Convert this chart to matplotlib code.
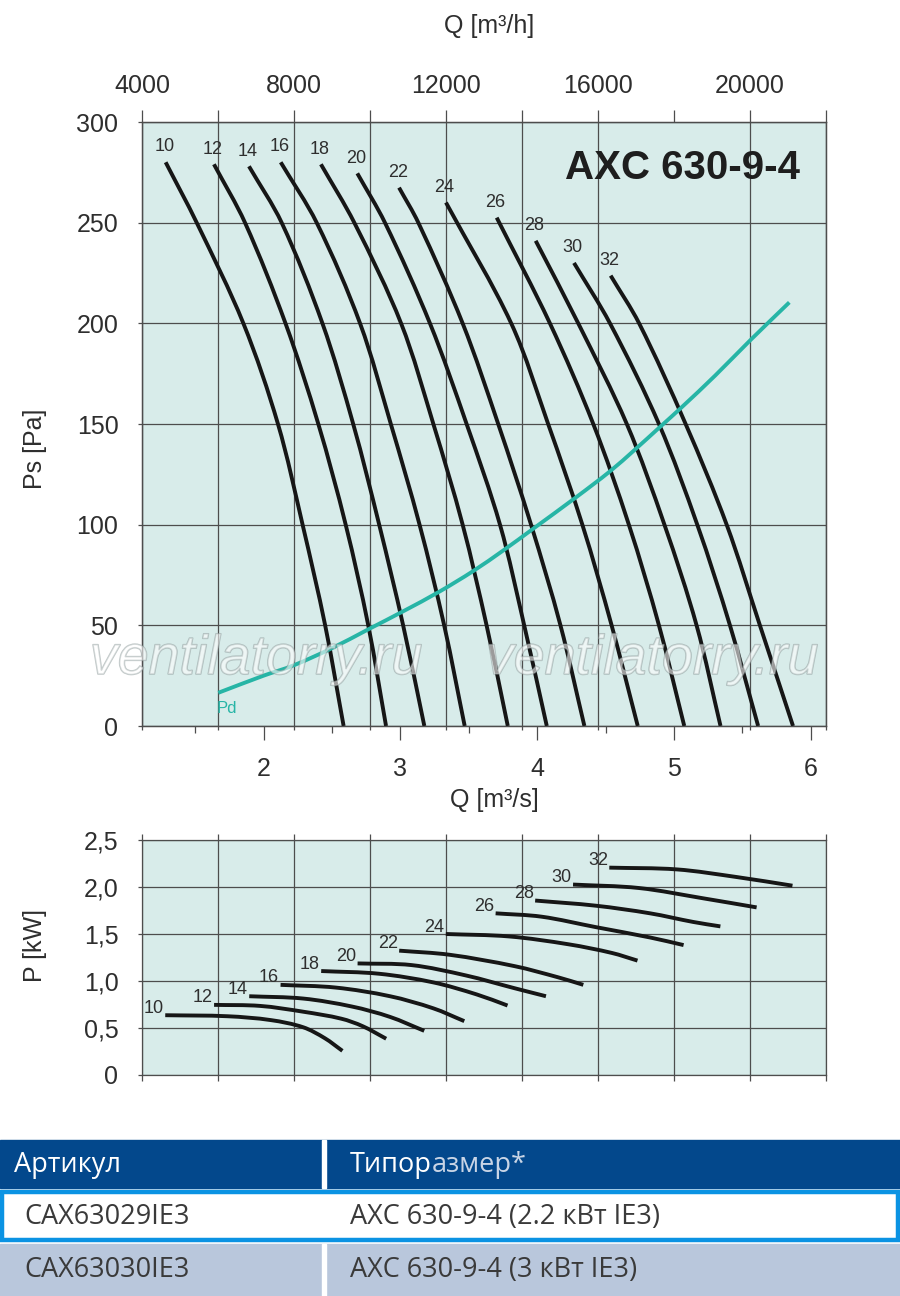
"""Fan curves AXC 630-9-4: static pressure, dynamic pressure and power vs flow."""

import matplotlib
matplotlib.use('Agg')
import matplotlib.pyplot as plt
import matplotlib.patheffects as pe
from matplotlib.patches import Rectangle, PathPatch
from matplotlib.path import Path

plt.rcParams['font.family'] = ['Liberation Sans', 'DejaVu Sans']

# blade angle of each curve
angles = [10, 12, 14, 16, 18, 20, 22, 24, 26, 28, 30, 32]

# static pressure curves, Q in m3/s and Ps in Pa
ps_q = [
    [1.284, 1.511, 1.852, 2.105, 2.285, 2.450, 2.585],
    [1.637, 1.864, 2.160, 2.400, 2.600, 2.765, 2.895],
    [1.893, 2.132, 2.430, 2.655, 2.845, 3.020, 3.175],
    [2.125, 2.388, 2.705, 2.930, 3.140, 3.320, 3.470],
    [2.419, 2.663, 3.005, 3.241, 3.455, 3.630, 3.785],
    [2.685, 2.887, 3.216, 3.484, 3.728, 3.905, 4.070],
    [2.990, 3.131, 3.455, 3.715, 3.955, 4.170, 4.345],
    [3.333, 3.810, 4.080, 4.330, 4.544, 4.735],
    [3.704, 4.093, 4.410, 4.670, 4.890, 5.075],
    [3.989, 4.300, 4.655, 4.930, 5.165, 5.340],
    [4.269, 4.532, 4.890, 5.170, 5.409, 5.615],
    [4.537, 4.745, 5.085, 5.385, 5.628, 5.870],
]
ps_p = [
    [280, 250, 200, 150, 100, 50, 0],
    [279, 250, 200, 150, 100, 50, 0],
    [278, 250, 200, 150, 100, 50, 0],
    [280, 250, 200, 150, 100, 50, 0],
    [279, 250, 200, 150, 100, 50, 0],
    [274.5, 250, 200, 150, 100, 50, 0],
    [267.4, 250, 200, 150, 100, 50, 0],
    [260, 200, 150, 100, 50, 0],
    [252.5, 200, 150, 100, 50, 0],
    [241, 200, 150, 100, 50, 0],
    [230, 200, 150, 100, 50, 0],
    [223.7, 200, 150, 100, 50, 0],
]

# dynamic pressure
pd_q = [1.669, 2.0, 2.222, 2.498, 2.765, 3.021, 3.289, 3.533, 3.752, 3.971,
        4.288, 4.532, 4.715, 4.897, 5.056, 5.30, 5.556, 5.843]
pd_p = [16.5, 25.0, 30.2, 38.6, 48.0, 57.0, 66.9, 77.0, 87.2, 98.0,
        113.8, 126.5, 137.3, 148.5, 158.3, 174.0, 191.5, 210.4]

# shaft power curves, Q in m3/s and P in kW
pw_q = [
    [1.281, 1.737, 2.053, 2.291, 2.449, 2.576],
    [1.638, 1.974, 2.291, 2.568, 2.726, 2.896],
    [1.895, 2.291, 2.647, 2.924, 3.174],
    [2.124, 2.528, 2.924, 3.241, 3.467],
    [2.421, 2.845, 3.241, 3.558, 3.783],
    [2.687, 3.083, 3.479, 3.835, 4.064],
    [2.991, 3.360, 3.835, 4.151, 4.337],
    [3.332, 3.795, 4.231, 4.547, 4.733],
    [3.696, 4.033, 4.429, 4.825, 5.070],
    [3.985, 4.429, 4.825, 5.141, 5.339],
    [4.262, 4.745, 5.220, 5.604],
    [4.527, 5.022, 5.458, 5.866],
]
pw_p = [
    [0.636, 0.625, 0.584, 0.507, 0.390, 0.257],
    [0.746, 0.735, 0.673, 0.599, 0.518, 0.386],
    [0.838, 0.813, 0.728, 0.618, 0.470],
    [0.959, 0.930, 0.838, 0.709, 0.573],
    [1.106, 1.077, 0.985, 0.857, 0.739],
    [1.187, 1.169, 1.059, 0.923, 0.838],
    [1.323, 1.279, 1.158, 1.040, 0.959],
    [1.500, 1.474, 1.390, 1.298, 1.217],
    [1.720, 1.684, 1.573, 1.463, 1.382],
    [1.856, 1.801, 1.720, 1.628, 1.581],
    [2.026, 1.989, 1.878, 1.783],
    [2.206, 2.187, 2.106, 2.014],
]

q_h_ticks = list(range(4000, 22001, 2000))
q_h_labels = [str(v) if v % 4000 == 0 and v < 22000 else '' for v in q_h_ticks]
q_s_ticks = [2, 3, 4, 5, 6]
q_s_half = [1.5, 2.5, 3.5, 4.5, 5.5]
ps_ticks = [0, 50, 100, 150, 200, 250, 300]
pw_ticks = [0, 0.5, 1.0, 1.5, 2.0, 2.5]
pw_labels = ['0', '0,5', '1,0', '1,5', '2,0', '2,5']

table_header = ['Артикул', 'Типор', 'азмер*']
table_rows = [['CAX63029IE3', 'AXC 630-9-4 (2.2 кВт IE3)'],
              ['CAX63030IE3', 'AXC 630-9-4 (3 кВт IE3)']]

BG = '#d8ecea'
GRID = '#4d4d4d'
TXT = '#2e2e2e'
TEAL = '#27b5a6'
W, H = 900, 1296

fig = plt.figure(figsize=(9, 12.96), dpi=100)
grid_q = [v / 3600 for v in q_h_ticks]


def smooth_line(ax, x, y, t, color, lw):
    """Draws a smooth Hermite/Bezier curve through the points, t is the parameter."""
    pts = list(zip(x, y))
    n = len(pts)

    def tangent(i):
        a, b = max(i - 1, 0), min(i + 1, n - 1)
        dt = t[b] - t[a]
        return ((pts[b][0] - pts[a][0]) / dt, (pts[b][1] - pts[a][1]) / dt)

    verts, codes = [pts[0]], [Path.MOVETO]
    for i in range(n - 1):
        h = (t[i + 1] - t[i]) / 3
        d1, d2 = tangent(i), tangent(i + 1)
        c1 = (pts[i][0] + d1[0] * h, pts[i][1] + d1[1] * h)
        c2 = (pts[i + 1][0] - d2[0] * h, pts[i + 1][1] - d2[1] * h)
        verts += [c1, c2, pts[i + 1]]
        codes += [Path.CURVE4] * 3
    ax.add_patch(PathPatch(Path(verts, codes), fill=False, edgecolor=color,
                           lw=lw, capstyle='butt', zorder=3))


def frame(ax):
    ax.set_facecolor(BG)
    ax.set_xlim(4000 / 3600, 22000 / 3600)
    ax.set_xticks(grid_q, minor=True)
    ax.grid(which='minor', axis='x', color=GRID, lw=0.9)
    ax.grid(which='major', axis='y', color=GRID, lw=0.9)
    ax.set_axisbelow(True)
    for s in ax.spines.values():
        s.set_color(GRID)
        s.set_linewidth(0.9)
    ax.tick_params(axis='y', length=3, width=0.9, color=GRID, pad=14,
                   labelsize=18, labelcolor=TXT)


# ---- static pressure chart ----
ax = fig.add_axes([142 / W, 1 - 726 / H, 684 / W, 604 / H])
frame(ax)
ax.set_ylim(0, 300)
ax.set_yticks(ps_ticks)
ax.set_xticks(q_s_ticks)
ax.tick_params(axis='x', which='major', length=10, width=0.9, color=GRID,
               pad=12, labelsize=18, labelcolor=TXT)
ax.tick_params(axis='x', which='minor', length=3, width=0.9, color=GRID)

sec = ax.secondary_xaxis('bottom')
sec.xaxis.set_ticks(q_s_half)
sec.tick_params(length=5, width=0.9, color=GRID, labelbottom=False)
sec.spines['bottom'].set_visible(False)

axt = ax.twiny()
axt.set_xlim(4000, 22000)
axt.set_xticks(q_h_ticks, q_h_labels)
axt.tick_params(axis='x', length=9, width=0.9, color=GRID, pad=8,
                labelsize=18, labelcolor=TXT)
for s in axt.spines.values():
    s.set_color(GRID)
    s.set_linewidth(0.9)

for a, q, p in zip(angles, ps_q, ps_p):
    smooth_line(ax, q, p, [-v for v in p], '#161616', 2.8)
    ax.annotate(str(a), (q[0], p[0]), xytext=(-1, 11), textcoords='offset points',
                ha='center', va='center', fontsize=13, color=TXT)

smooth_line(ax, pd_q, pd_p, pd_q, TEAL, 2.8)
ax.annotate('Pd', (pd_q[0], pd_p[0]), xytext=(6, -11), textcoords='offset points',
            ha='center', va='center', fontsize=12, color=TEAL)

ax.text(5.92, 277, 'AXC 630-9-4', ha='right', va='center', fontsize=29,
        fontweight='bold', color='#1e1e1e')

for xc in (256, 652):
    fig.text(xc / W, 1 - 660 / H, 'ventilatorry.ru', ha='center', va='center',
             fontsize=40, style='italic', color=(1, 1, 1, 0.35), zorder=10,
             path_effects=[pe.withStroke(linewidth=1.1, foreground=(0.55, 0.6, 0.6, 0.55))])

# ---- power chart ----
bx = fig.add_axes([142 / W, 1 - 1075 / H, 684 / W, 235 / H])
frame(bx)
bx.set_ylim(0, 2.5)
bx.set_yticks(pw_ticks, pw_labels)
bx.set_xticks([])
bx.tick_params(axis='x', which='minor', length=4, width=0.9, color=GRID,
               top=True, bottom=True, labelbottom=False)

for a, q, p in zip(angles, pw_q, pw_p):
    smooth_line(bx, q, p, q, '#161616', 2.8)
    bx.annotate(str(a), (q[0], p[0]), xytext=(-1, 5), textcoords='offset points',
                ha='right', va='center', fontsize=13, color=TXT)

# axis titles
fig.text(489 / W, 1 - 26 / H, 'Q [m³/h]', ha='center', va='center', fontsize=18, color=TXT)
fig.text(494 / W, 1 - 800 / H, 'Q [m³/s]', ha='center', va='center', fontsize=18, color=TXT)
fig.text(35 / W, 1 - 449 / H, 'Ps [Pa]', ha='center', va='center', fontsize=18,
         rotation=90, color=TXT)
fig.text(35 / W, 1 - 945 / H, 'P [kW]', ha='center', va='center', fontsize=18,
         rotation=90, color=TXT)

# ---- table ----
tx = fig.add_axes([0, 0, 1, 1])
tx.set_xlim(0, W)
tx.set_ylim(H, 0)
tx.axis('off')
tx.add_patch(Rectangle((0, 1140), W, 48, color='#03488c'))
tx.add_patch(Rectangle((322, 1140), 4, 48, color='white'))
tx.add_patch(Rectangle((2, 1192), W - 4, 48, facecolor='white',
                       edgecolor='#0b93e3', lw=3.2))
tx.add_patch(Rectangle((0, 1244), W, 52, color='#b9c7dc'))
tx.add_patch(Rectangle((322, 1244), 4, 52, color='white'))

tfont = dict(family=['Open Sans', 'DejaVu Sans'], fontsize=19.5, va='center')
tx.text(14, 1165, table_header[0], color='white', **tfont)
t1 = tx.text(350, 1165, table_header[1], color='white', **tfont)
tx.annotate(table_header[2], xy=(1, 0.5), xycoords=t1, ha='left', color='#c9d5e6',
            **tfont)
for (code, name), yc in zip(table_rows, (1217, 1270)):
    tx.text(24, yc, code, color='#3a3a3a', **tfont)
    tx.text(350, yc, name, color='#3a3a3a', **tfont)

fig.savefig('out.png', dpi=100)
